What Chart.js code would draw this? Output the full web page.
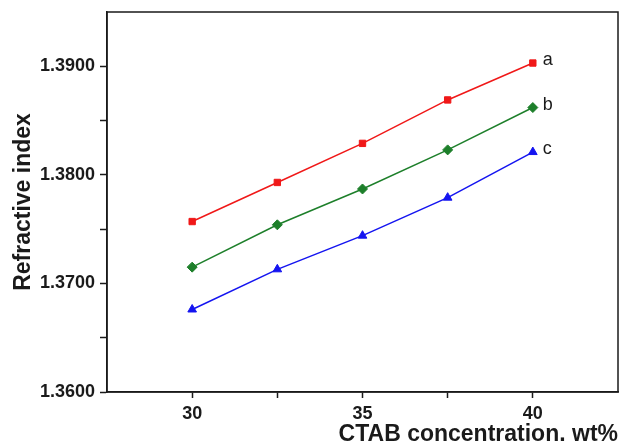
<!DOCTYPE html>
<html>
<head>
<meta charset="utf-8">
<script src="https://cdn.jsdelivr.net/npm/chart.js@4"></script>
<style>
  html, body { margin: 0; padding: 0; background: #fff; }
  #wrap { width: 624px; height: 448px; }
</style>
</head>
<body>
<div id="wrap"><canvas id="chart" width="624" height="448"></canvas></div>
<script>
// CTAB concentration (wt%)
const concentrations = [30, 32.5, 35, 37.5, 40];
// refractive index
const seriesA = [1.3757, 1.3793, 1.3829, 1.3869, 1.3903];
const seriesB = [1.3715, 1.3754, 1.3787, 1.3823, 1.3862];
const seriesC = [1.3676, 1.3713, 1.3744, 1.3779, 1.3821];
const seriesNames = ['a', 'b', 'c'];
const xTitle = 'CTAB concentration. wt%';
const yTitle = 'Refractive index';

const ink = '#1a1a1a';
const fontFamily = '"Liberation Sans", Arial, sans-serif';

function toPoints(values) {
    return concentrations.map((x, i) => ({ x: x, y: values[i] }));
}

// frame round the plot area
const framePlugin = {
    id: 'frame',
    afterDraw(chart) {
        const a = chart.chartArea;
        const ctx = chart.ctx;
        ctx.save();
        ctx.strokeStyle = ink;
        ctx.lineWidth = 1.5;
        ctx.strokeRect(a.left, a.top, a.right - a.left, a.bottom - a.top);
        ctx.restore();
    }
};

// a / b / c beside the last point of each line
const endLabelPlugin = {
    id: 'endLabels',
    afterDatasetsDraw(chart) {
        const ctx = chart.ctx;
        ctx.save();
        ctx.font = '18px ' + fontFamily;
        ctx.fillStyle = ink;
        ctx.textBaseline = 'middle';
        chart.data.datasets.forEach((ds, i) => {
            const pts = chart.getDatasetMeta(i).data;
            const last = pts[pts.length - 1];
            ctx.fillText(seriesNames[i], last.x + 10, last.y - 3);
        });
        ctx.restore();
    }
};

function makeDataset(values, color, shape, radius) {
    return {
        data: toPoints(values),
        borderColor: color,
        backgroundColor: color,
        borderWidth: 1.5,
        pointStyle: shape,
        pointRadius: radius,
        pointHoverRadius: radius,
        pointBorderWidth: 1,
        pointBorderColor: color,
        pointBackgroundColor: color,
        tension: 0
    };
}

new Chart(document.getElementById('chart'), {
    type: 'line',
    data: {
        datasets: [
            makeDataset(seriesA, '#f01818', 'rect', 4.5),
            makeDataset(seriesB, '#1d7f2a', 'rectRot', 5),
            makeDataset(seriesC, '#1414f0', 'triangle', 5)
        ]
    },
    options: {
        responsive: false,
        animation: false,
        layout: { padding: { top: 12, right: 4, left: 0, bottom: 0 } },
        plugins: {
            legend: { display: false },
            tooltip: { enabled: false }
        },
        scales: {
            x: {
                type: 'linear',
                min: 27.5,
                max: 42.5,
                afterFit(scale) {
                    scale.height = 56;
                    scale.paddingLeft = 0;
                    scale.paddingRight = 0;
                },
                ticks: {
                    stepSize: 2.5,
                    color: ink,
                    padding: 5,
                    maxRotation: 0,
                    font: { family: fontFamily, size: 18, weight: 'bold' },
                    callback: v => (v % 5 === 0 ? String(v) : '')
                },
                grid: {
                    drawOnChartArea: false,
                    drawTicks: true,
                    tickLength: 6,
                    tickWidth: 1.5,
                    tickColor: c => (c.tick && (c.tick.value === 27.5 || c.tick.value === 42.5) ? 'rgba(0,0,0,0)' : ink)
                },
                border: { display: true, color: ink, width: 1.5 },
                title: {
                    display: true,
                    text: xTitle,
                    align: 'end',
                    color: ink,
                    padding: { top: 0, bottom: 0 },
                    font: { family: fontFamily, size: 23, weight: 'bold' }
                }
            },
            y: {
                type: 'linear',
                min: 1.36,
                max: 1.395,
                afterFit(scale) {
                    scale.width = 107;
                    scale.paddingTop = 0;
                    scale.paddingBottom = 0;
                },
                ticks: {
                    stepSize: 0.005,
                    color: ink,
                    padding: 5,
                    font: { family: fontFamily, size: 18, weight: 'bold' },
                    callback: v => (Math.round(v * 1000) % 10 === 0 ? v.toFixed(4) : '')
                },
                grid: {
                    drawOnChartArea: false,
                    drawTicks: true,
                    tickLength: 7,
                    tickWidth: 1.5,
                    tickColor: c => (c.tick && Math.round(c.tick.value * 1000) === 1395 ? 'rgba(0,0,0,0)' : ink)
                },
                border: { display: true, color: ink, width: 1.5 },
                title: {
                    display: true,
                    text: yTitle,
                    color: ink,
                    padding: { top: 10, bottom: 0 },
                    font: { family: fontFamily, size: 23, weight: 'bold' }
                }
            }
        }
    },
    plugins: [framePlugin, endLabelPlugin]
});
</script>
</body>
</html>
